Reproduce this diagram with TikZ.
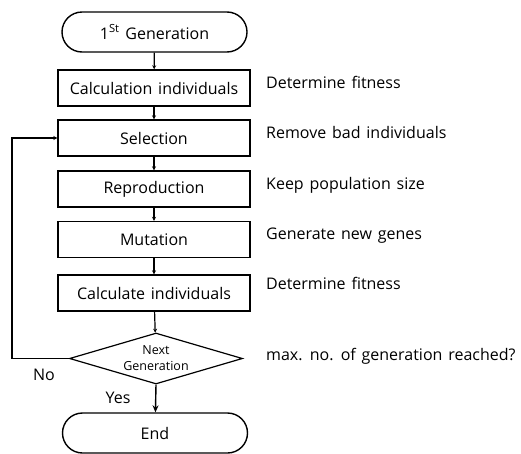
\documentclass[tikz,border=0pt]{standalone}
\usepackage{fontspec}
\setmainfont{Open Sans}[WordSpace=1.4]
\usetikzlibrary{shapes.geometric,shapes.misc,arrows.meta}
\begin{document}
\begin{tikzpicture}[x=1pt,y=-1pt,
  every node/.style={font=\fontsize{16}{18}\selectfont},
  term/.style={draw,line width=1.4pt,rounded rectangle,minimum width=185pt,minimum height=40pt,inner sep=0pt},
  proc/.style={draw,line width=1.4pt,minimum width=192pt,minimum height=36pt,inner sep=0pt},
  dec/.style={draw,line width=1.2pt,diamond,aspect=3.4,minimum width=173pt,minimum height=51pt,inner sep=0pt,font=\fontsize{12.5}{16}\selectfont,align=center},
  note/.style={anchor=base west,inner sep=0pt},
  arr/.style={line width=1.2pt,-{Stealth[length=4pt,width=4pt]}},
  bigarr/.style={line width=1.4pt,-{Stealth[length=7pt,width=6pt]}}]
\useasboundingbox (0,0) rectangle (521,453);
\node[term] (start) at (154.5,32) {1\textsuperscript{St} Generation};
\node[proc] (calc1) at (154,88) {Calculation individuals};
\node[proc] (sel) at (154,138) {Selection};
\node[proc] (rep) at (154,189) {Reproduction};
\node[proc] (mut) at (154,239.5) {Mutation};
\node[proc] (calc2) at (154,293) {Calculate individuals};
\node[dec] (dia) at (156,358.5) {Next\\Generation};
\node[term] (end) at (155,433) {End};
\coordinate (lp) at (12,358.5);
\draw[arr] (start) -- (calc1);
\draw[arr] (calc1) -- (sel);
\draw[arr] (sel) -- (rep);
\draw[arr] (rep) -- (mut);
\draw[arr] (mut) -- (calc2);
\draw[arr] (calc2) -- (dia);
\draw[bigarr] (dia.south) -- (end);
\draw[arr] (dia.west) -- (lp) |- (sel.west);
\node (no) at (44,375) {No};
\node (yes) at (118,398) {Yes};
\node[note] (n1) at (266,88.5) {Determine fitness};
\node[note] (n2) at (266,138.5) {Remove bad individuals};
\node[note] (n3) at (266,189) {Keep population size};
\node[note] (n4) at (266,239.5) {Generate new genes};
\node[note] (n5) at (266,289.5) {Determine fitness};
\node[note] (n6) at (266,360.5) {max. no. of generation reached?};
\end{tikzpicture}
\end{document}
